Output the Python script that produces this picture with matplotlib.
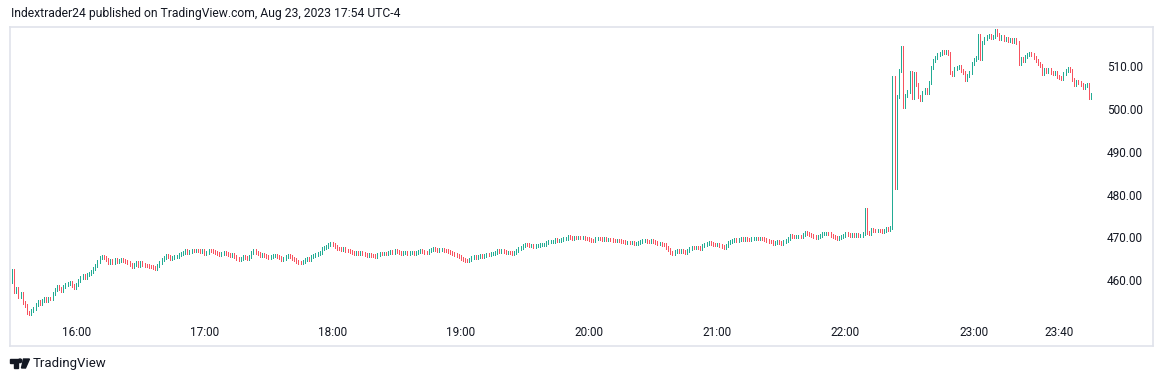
import numpy as np
import matplotlib.pyplot as plt
from matplotlib.patches import Polygon, Circle
from matplotlib.transforms import blended_transform_factory, IdentityTransform

# NVDA-style 1 minute bars, chart time 15:30 -> 23:55, closes
first_open = 460.0

closes_15 = [462.6, 457.8, 458.4, 456.6, 457.2, 455.2, 454.4, 452.9, 452.6, 453.3,
             453.8, 454.8, 455.4, 455.0, 455.7, 456.0, 455.6, 456.2, 456.0, 457.2,
             458.1, 458.8, 458.5, 458.0, 458.9, 459.3, 459.6, 459.8, 459.2, 458.7]
closes_16 = [459.4, 460.4, 461.0, 461.5, 461.0, 461.8, 462.0, 462.3, 463.0, 463.8,
             464.8, 465.6, 466.0, 465.6, 465.1, 464.6, 464.9, 464.4, 465.1, 464.7,
             465.0, 465.3, 465.0, 464.7, 464.4, 464.0, 463.6, 464.0, 464.4, 463.9,
             464.5, 464.1, 463.9, 463.7, 463.6, 463.5, 463.4, 463.2, 463.9, 464.5,
             465.1, 465.7, 466.2, 465.9, 465.4, 465.6, 465.8, 466.0, 466.3, 466.6,
             466.9, 467.2, 466.9, 467.1, 467.3, 467.2, 467.4, 467.3, 467.0, 467.2]
closes_17 = [466.6, 466.9, 467.3, 467.2, 467.0, 466.9, 466.6, 466.4, 466.6, 466.8,
             466.5, 466.3, 466.2, 466.4, 465.8, 465.4, 465.1, 465.4, 465.9, 465.6,
             465.5, 465.9, 466.8, 467.3, 466.9, 466.5, 466.1, 466.3, 466.1, 465.8,
             465.7, 465.9, 466.1, 466.2, 465.9, 465.6, 465.3, 465.5, 465.8, 466.1,
             465.8, 465.5, 465.1, 464.8, 464.5, 464.4, 464.7, 465.2, 465.4, 465.2,
             465.9, 466.1, 466.3, 466.6, 466.9, 467.7, 468.0, 468.3, 468.7, 469.0]
closes_18 = [468.7, 468.2, 467.8, 467.7, 467.6, 467.7, 467.4, 467.2, 467.1, 466.9,
             466.6, 466.8, 466.6, 466.8, 466.7, 466.4, 466.2, 466.3, 466.2, 466.1,
             466.0, 466.3, 466.7, 466.5, 466.7, 466.6, 466.9, 467.1, 466.9, 467.2,
             467.1, 466.9, 466.6, 466.8, 466.9, 466.7, 466.8, 466.9, 466.7, 466.9,
             467.0, 467.3, 467.1, 466.9, 466.8, 467.2, 467.5, 467.8, 467.6, 467.4,
             467.5, 467.6, 467.4, 467.2, 467.0, 466.8, 466.6, 466.4, 466.1, 465.8]
closes_19 = [465.5, 465.2, 465.0, 464.9, 465.3, 465.6, 465.8, 465.7, 466.0, 466.1,
             466.0, 466.2, 466.4, 466.3, 466.5, 466.7, 466.9, 467.2, 467.1, 467.2,
             467.1, 466.9, 466.9, 466.8, 466.6, 466.9, 467.3, 467.7, 468.1, 468.4,
             468.8, 468.6, 468.5, 468.5, 468.2, 468.4, 468.5, 468.6, 468.7, 468.8,
             469.1, 469.3, 469.4, 469.4, 469.8, 469.6, 469.7, 469.9, 470.0, 470.2,
             470.5, 470.3, 470.2, 470.4, 470.3, 470.4, 470.3, 470.3, 470.2, 470.1]
closes_20 = [469.8, 469.7, 469.6, 470.1, 470.2, 470.0, 469.9, 470.0, 469.9, 469.9,
             469.8, 469.7, 469.6, 469.7, 469.6, 469.5, 469.3, 469.1, 469.2, 469.1,
             469.2, 468.9, 469.0, 469.1, 469.3, 469.6, 469.7, 469.5, 469.4, 469.7,
             469.4, 469.1, 468.9, 469.0, 468.8, 468.6, 468.1, 467.6, 466.9, 466.7,
             467.0, 467.2, 467.1, 467.2, 467.1, 466.9, 467.4, 467.7, 468.0, 467.9,
             468.1, 467.9, 467.7, 468.4, 468.7, 468.9, 469.1, 468.9, 468.8, 468.7]
closes_21 = [468.8, 468.5, 468.2, 467.9, 468.4, 469.1, 469.3, 469.6, 469.8, 469.6,
             469.9, 470.0, 469.9, 470.0, 469.9, 469.8, 470.0, 470.1, 470.2, 470.1,
             470.1, 470.0, 469.8, 469.6, 469.4, 469.3, 469.0, 469.2, 469.3, 469.2,
             469.0, 469.3, 469.6, 470.0, 470.8, 470.6, 470.5, 470.6, 470.7, 470.6,
             471.1, 471.5, 471.4, 471.1, 470.9, 470.6, 470.4, 470.6, 470.9, 471.2,
             471.3, 471.4, 471.2, 470.9, 470.5, 470.3, 470.2, 470.4, 470.6, 470.9]
closes_22 = [471.3, 471.1, 470.8, 471.1, 470.9, 471.1, 470.8, 470.9, 471.2, 477.0,
             471.6, 471.2, 472.3, 472.0, 471.9, 472.1, 471.9, 471.8, 472.1, 472.4,
             472.2, 472.6, 507.8, 482.0, 503.4, 509.3, 514.8, 501.0, 503.6, 504.5,
             509.0, 503.0, 508.6, 506.2, 503.3, 502.6, 504.2, 505.0, 504.3, 506.6,
             510.0, 511.6, 512.4, 513.0, 513.4, 513.9, 513.5, 513.8, 513.4, 508.8,
             508.5, 509.8, 510.0, 510.2, 509.3, 508.8, 507.2, 508.3, 509.0, 511.0]
closes_23 = [512.0, 512.3, 517.6, 512.2, 515.8, 516.8, 517.3, 517.6, 517.0, 517.4,
             518.6, 517.8, 516.8, 517.2, 516.5, 516.8, 516.3, 516.5, 516.1, 516.5,
             516.0, 511.0, 512.2, 511.8, 512.6, 513.2, 513.4, 513.0, 512.4, 511.7,
             511.0, 510.5, 508.7, 509.6, 509.1, 509.5, 508.9, 508.6, 508.9, 508.0,
             507.7, 507.4, 508.6, 509.4, 509.9, 509.3, 507.2, 506.0, 506.9, 506.5,
             506.2, 505.4, 505.9, 506.2, 503.1, 503.8]

price_ticks = [460, 470, 480, 490, 500, 510]
time_labels = ["16:00", "17:00", "18:00", "19:00", "20:00", "21:00", "22:00", "23:00", "23:40"]
time_index = [30, 90, 150, 210, 270, 330, 390, 450, 490]   # minutes after 15:30

closes = np.array(closes_15 + closes_16 + closes_17 + closes_18 + closes_19 +
                  closes_20 + closes_21 + closes_22 + closes_23)
opens = np.concatenate([[first_open], closes[:-1]])
pad = 0.35  # minimum visible bar length
highs = np.maximum(opens, closes) + pad
lows = np.minimum(opens, closes) - pad
up = closes >= opens
colors = np.where(up, "#22ab94", "#f7525f")
xs = np.arange(len(closes))

W, H = 1164, 382
fig = plt.figure(figsize=(W / 100, H / 100), dpi=100)
fig.patch.set_facecolor("white")
ax = fig.add_axes([10 / W, (H - 346) / H, 1143 / W, 319 / H])
ax.vlines(xs, lows, highs, colors=colors, linewidth=0.7, antialiased=False)
ax.set_xlim(-0.94, 533.9)
ax.set_ylim(445.0, 519.53)
ax.set_xticks([])
ax.set_yticks([])
for s in ax.spines.values():
    s.set_color("#e0e3eb")
    s.set_linewidth(1.2)

lab_font = dict(family="Roboto", fontsize=8.5, color="#131722")
ytr = blended_transform_factory(ax.transAxes, ax.transData)
for p in price_ticks:
    ax.text((1107 - 10) / 1143, p, "%.2f" % p, transform=ytr, ha="left", va="center", **lab_font)
xtr = blended_transform_factory(ax.transData, ax.transAxes)
for idx, lab in zip(time_index, time_labels):
    ax.text(idx, (346 - 333) / 319, lab, transform=xtr, ha="center", va="center", **lab_font)

fig.text(11 / W, 1 - 13 / H, "Indextrader24 published on TradingView.com, Aug 23, 2023 17:54 UTC-4",
         ha="left", va="center", family="Roboto", fontsize=8.7, color="#131722")

# TradingView logo (pixel coords, origin bottom-left)
def px(x, y):
    return (x, H - y)

logo = "#131722"
fig.add_artist(Polygon([px(10, 359), px(18, 359), px(18, 368), px(14, 368), px(14, 362.5), px(10, 362.5)],
                       closed=True, color=logo, transform=IdentityTransform()))
fig.add_artist(Circle(px(20, 360.8), 1.8, color=logo, transform=IdentityTransform()))
fig.add_artist(Polygon([px(23.5, 359), px(29.5, 359), px(25.5, 368), px(21.5, 368)],
                       closed=True, color=logo, transform=IdentityTransform()))
fig.text(33 / W, 1 - 364 / H, "TradingView", ha="left", va="center",
         family="Roboto", fontsize=9.5, color="#131722")

fig.savefig("out.png", dpi=100)
